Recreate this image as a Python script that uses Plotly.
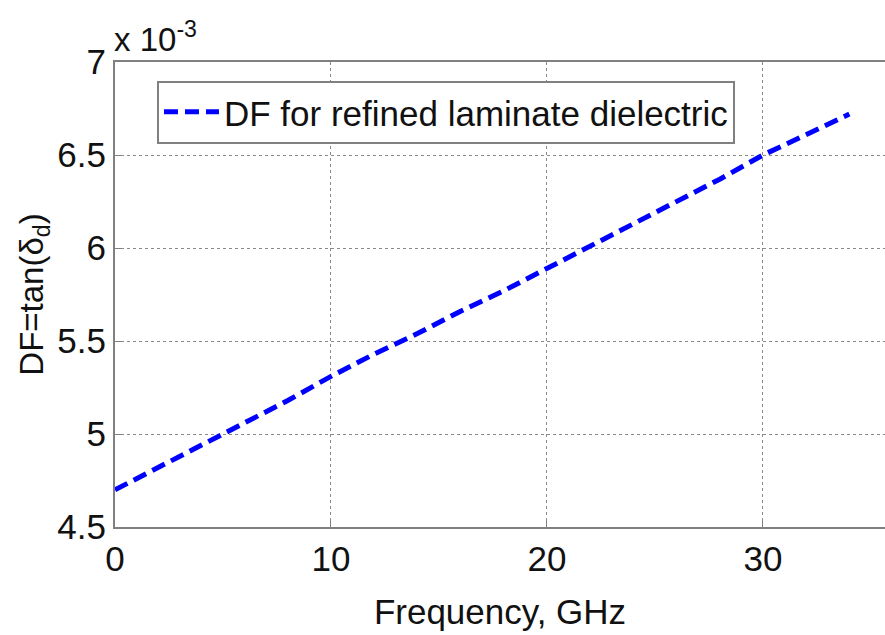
import plotly.graph_objects as go

# Frequency in GHz
freq_ghz = [0, 2, 4, 5, 6, 8, 10, 12, 14, 16, 18, 20, 22, 24, 26, 28, 30, 32, 34]
# Dissipation factor, in units of 1e-3
df_e3 = [4.70, 4.82, 4.94, 5.00, 5.06, 5.18, 5.31, 5.43, 5.54, 5.66, 5.77, 5.89,
         6.01, 6.13, 6.25, 6.37, 6.50, 6.61, 6.72]
series_name = "DF for refined laminate dielectric"
x_ticks = [0, 10, 20, 30]
y_ticks = [4.5, 5, 5.5, 6, 6.5, 7]
y_tick_text = ["4.5", "5", "5.5", "6", "6.5", "7"]

FONT = "Arial, Liberation Sans, sans-serif"

fig = go.Figure()
fig.add_trace(go.Scatter(
    x=freq_ghz, y=df_e3, mode="lines", name=series_name,
    line=dict(color="#0000FF", width=5, dash="14px,7px"),
))

axis_common = dict(
    showline=True, linecolor="#808080", linewidth=2,
    ticks="inside", ticklen=6, tickcolor="#808080", tickwidth=1,
    showgrid=True, gridcolor="#8a8a8a", griddash="dot", gridwidth=1,
    zeroline=False, automargin=False,
    tickfont=dict(family=FONT, size=35, color="#111111"),
)

fig.update_xaxes(
    range=[0, 35.65], tickvals=x_ticks, mirror=True,
    title=dict(text="Frequency, GHz", font=dict(family=FONT, size=35, color="#111111"), standoff=22),
    **axis_common,
)
fig.update_yaxes(
    range=[4.5, 7], tickvals=y_ticks, ticktext=y_tick_text, mirror=False,
    title=dict(text="DF=tan(δ<sub>d</sub>)", font=dict(family=FONT, size=33, color="#111111"), standoff=4),
    **axis_common,
)

fig.add_annotation(
    xref="paper", yref="paper", x=0, y=1, xanchor="left", yanchor="bottom",
    text="x 10<sup>-3</sup>", showarrow=False, yshift=2, xshift=-3,
    font=dict(family=FONT, size=33, color="#111111"),
)

fig.update_layout(
    width=885, height=635,
    margin=dict(l=115, r=0, t=62, b=108),
    plot_bgcolor="white", paper_bgcolor="white",
    showlegend=True,
    legend=dict(
        x=0.0545, y=0.96, xanchor="left", yanchor="top",
        bgcolor="white", bordercolor="#808080", borderwidth=2,
        font=dict(family=FONT, size=35, color="#111111"),
        itemwidth=55, tracegroupgap=0,
    ),
)

fig.write_html("out.html", config={"displayModeBar": False},
               post_script="document.body.style.margin='0';")
